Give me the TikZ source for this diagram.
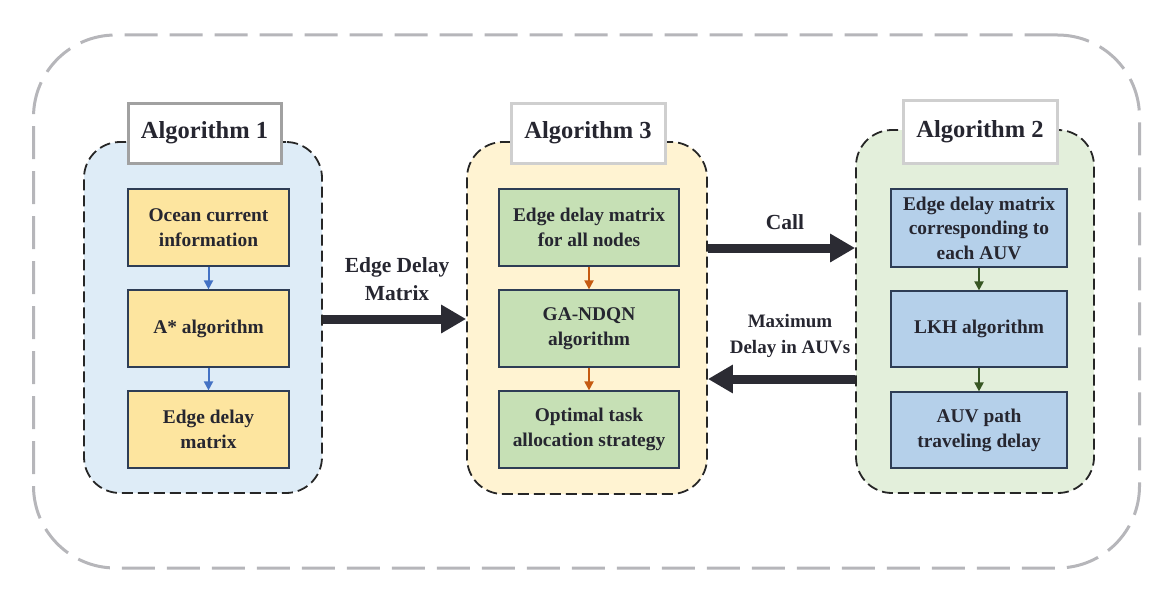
\documentclass[tikz,border=0pt]{standalone}
\usepackage{fontspec}
\setmainfont{Liberation Serif}
\usetikzlibrary{arrows.meta,positioning}
\definecolor{txt}{HTML}{262630}
\definecolor{outerc}{HTML}{B6B6BA}
\definecolor{pblue}{HTML}{DEECF7}
\definecolor{pyellow}{HTML}{FFF3D2}
\definecolor{pgreen}{HTML}{E3EFDB}
\definecolor{byellow}{HTML}{FDE59F}
\definecolor{bgreen}{HTML}{C6E0B5}
\definecolor{bblue}{HTML}{B5D0EA}
\definecolor{bborder}{HTML}{2E3D55}
\definecolor{ablue}{HTML}{4472C4}
\definecolor{aorange}{HTML}{C55A11}
\definecolor{agreen}{HTML}{375623}
\definecolor{bigc}{HTML}{2B2B33}
\begin{document}
\begin{tikzpicture}[x=1pt,y=-1pt,
  panel/.style={draw=black!85, line width=1.8pt, dash pattern=on 11pt off 5pt, rounded corners=36pt},
  titlebox/.style={fill=white, line width=3pt, font=\fontsize{24.5}{29}\selectfont\bfseries, text=txt, inner sep=0pt},
  inbox/.style={draw=bborder, line width=1.2pt, align=center, font=\fontsize{19.4}{25}\selectfont\bfseries, text=txt, inner sep=0pt},
  smallarrow/.style={line width=2pt, -{Triangle[length=9pt,width=9pt]}},
  bigarrow/.style={draw=bigc, line width=9pt, -{Triangle[length=25pt,width=27pt]}, shorten <=0pt},
  lbl/.style={align=center, text=txt, font=\fontsize{21.5}{28}\selectfont\bfseries, inner sep=0pt},
  lbls/.style={align=center, text=txt, font=\fontsize{19}{26}\selectfont\bfseries, inner sep=0pt}
]
\useasboundingbox (0,0) rectangle (1166,594);
% outer frame
\node[draw=outerc, line width=3pt, dash pattern=on 33pt off 12pt, rounded corners=82pt,
  minimum width=1106pt, minimum height=533pt, inner sep=0pt] (outer) at (586.5,301.5) {};

% panels
\node[panel, fill=pblue, minimum width=238pt, minimum height=351pt, inner sep=0pt] (p1) at (203,317.5) {};
\node[panel, fill=pyellow, minimum width=240pt, minimum height=352pt, inner sep=0pt] (p3) at (587,318) {};
\node[panel, fill=pgreen, minimum width=238pt, minimum height=363pt, inner sep=0pt] (p2) at (975,311.5) {};

% titles
\node[titlebox, draw=black!37, minimum width=153pt, minimum height=60pt] (t1) at (204.5,133) {Algorithm 1};
\node[titlebox, draw=black!19, minimum width=154pt, minimum height=60pt] (t3) at (588,133) {Algorithm 3};
\node[titlebox, draw=black!19, minimum width=154pt, minimum height=63pt] (t2) at (980,131.5) {Algorithm 2};

% panel 1 boxes
\node[inbox, fill=byellow, minimum width=161pt, minimum height=77pt] (a1) at (208.5,227.5) {Ocean current\\information};
\node[inbox, fill=byellow, minimum width=161pt, minimum height=77pt] (a2) at (208.5,328.5) {A* algorithm};
\node[inbox, fill=byellow, minimum width=161pt, minimum height=77pt] (a3) at (208.5,429.5) {Edge delay\\matrix};

% panel 3 boxes
\node[inbox, fill=bgreen, minimum width=180pt, minimum height=77pt] (c1) at (589,227.5) {Edge delay matrix\\for all nodes};
\node[inbox, fill=bgreen, minimum width=180pt, minimum height=77pt] (c2) at (589,328.5) {GA-NDQN\\algorithm};
\node[inbox, fill=bgreen, minimum width=180pt, minimum height=77pt] (c3) at (589,429.5) {Optimal task\\allocation strategy};

% panel 2 boxes
\node[inbox, fill=bblue, minimum width=176pt, minimum height=78pt, font=\fontsize{19.4}{24.5}\selectfont\bfseries] (b1) at (979,228) {Edge delay matrix\\corresponding to\\each AUV};
\node[inbox, fill=bblue, minimum width=176pt, minimum height=76pt] (b2) at (979,329) {LKH algorithm};
\node[inbox, fill=bblue, minimum width=176pt, minimum height=76pt] (b3) at (979,430) {AUV path\\traveling delay};

% small arrows
\draw[smallarrow, draw=ablue, fill=ablue] (a1.south) -- (a2.north);
\draw[smallarrow, draw=ablue, fill=ablue] (a2.south) -- (a3.north);
\draw[smallarrow, draw=aorange, fill=aorange] (c1.south) -- (c2.north);
\draw[smallarrow, draw=aorange, fill=aorange] (c2.south) -- (c3.north);
\draw[smallarrow, draw=agreen, fill=agreen] (b1.south) -- (b2.north);
\draw[smallarrow, draw=agreen, fill=agreen] (b2.south) -- (b3.north);

% big arrows
\coordinate (e1) at ([yshift=-1.5pt]p1.east);
\draw[bigarrow, fill=bigc] (e1) -- (e1 -| p3.west);
\coordinate (k1) at ([yshift=70pt]p3.east);
\draw[bigarrow, fill=bigc] (k1) -- (k1 -| p2.west);
\coordinate (m1) at ([yshift=-67.5pt]p2.west);
\draw[bigarrow, fill=bigc] (m1) -- (m1 -| p3.east);

% labels
\node[lbl] (l1) at (397,279) {Edge Delay\\Matrix};
\node[lbl] (l2) at (785,222) {Call};
\node[lbls] (l3) at (790,336) {Maximum\\Delay in AUVs};
\end{tikzpicture}
\end{document}
